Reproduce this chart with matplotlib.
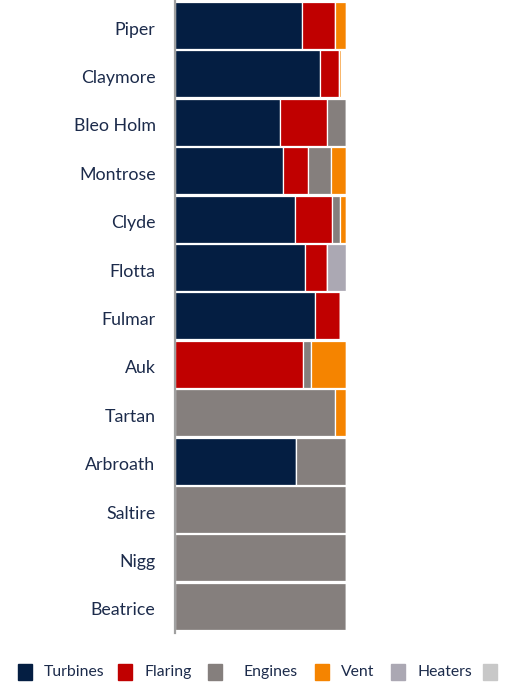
import matplotlib
matplotlib.use("Agg")
import matplotlib.pyplot as plt
from matplotlib.patches import Rectangle
from matplotlib.transforms import ScaledTranslation
import numpy as np

plt.rcParams['font.family'] = ['Lato', 'DejaVu Sans']

fields = ["Piper", "Claymore", "Bleo Holm", "Montrose", "Clyde", "Flotta", "Fulmar",
          "Auk", "Tartan", "Arbroath", "Saltire", "Nigg", "Beatrice"]
sources = ["Turbines", "Flaring", "Engines", "Vent", "Heaters", "Other"]
colors = ["#041e42", "#c00000", "#857f7d", "#f58400", "#aba8b3", "#c8c8c8"]

turbines = [74.0, 85.0, 61.5, 63.3, 70.0, 76.0, 81.6, 0.0, 0.0, 70.6, 0.0, 0.0, 0.0]
flaring  = [19.5, 11.0, 27.5, 14.2, 21.6, 13.0, 15.0, 75.0, 0.0, 0.0, 0.0, 0.0, 0.0]
engines  = [0.0, 0.0, 11.0, 14.0, 5.0, 0.0, 0.0, 4.5, 93.4, 29.4, 100.0, 100.0, 100.0]
vent     = [6.5, 0.8, 0.0, 8.5, 3.4, 0.0, 0.0, 20.5, 6.6, 0.0, 0.0, 0.0, 0.0]
heaters  = [0.0, 0.0, 0.0, 0.0, 0.0, 11.0, 0.0, 0.0, 0.0, 0.0, 0.0, 0.0, 0.0]
other    = [0.0] * 13

series = [turbines, flaring, engines, vent, heaters, other]

W, H = 506, 683
fig = plt.figure(figsize=(W / 100, H / 100), dpi=100)
ax = fig.add_axes([175 / W, (H - 633) / H, 171 / W, 633 / H])

y = np.arange(len(fields))
left = np.zeros(len(fields))
for vals, col in zip(series, colors):
    v = np.array(vals)
    ax.barh(y, v, left=left, height=0.97, color=col, edgecolor="white", linewidth=0.9)
    left += v

ax.set_xlim(0, 100)
ax.set_ylim(12.55, -0.527)
ax.set_yticks(y)
ax.set_yticklabels(fields, fontsize=12.8, color="#1c2b4b")
ax.tick_params(axis="y", length=0, pad=14)
shift = ScaledTranslation(0, -2.5 / 100, fig.dpi_scale_trans)
for lab in ax.get_yticklabels():
    lab.set_transform(lab.get_transform() + shift)
ax.set_xticks([])
for s in ["top", "right", "bottom"]:
    ax.spines[s].set_visible(False)
ax.spines["left"].set_color("#a0a0a0")
ax.spines["left"].set_linewidth(1.6)

# legend (manual, bottom); the last entry's label lies beyond the figure edge
leg_sq = [18, 118, 208, 315, 391, 483]
leg_tx = [44, 145, 244, 341, 418, None]
for name, col, sx, tx in zip(sources, colors, leg_sq, leg_tx):
    fig.patches.append(Rectangle((sx / W, (H - 680) / H), 14 / W, 16 / H,
                                 transform=fig.transFigure, color=col))
    if tx is not None:
        fig.text(tx / W, (H - 672) / H, name, fontsize=11.3, color="#1c2b4b",
                 va="center", ha="left")

fig.savefig("out.png", dpi=100)
